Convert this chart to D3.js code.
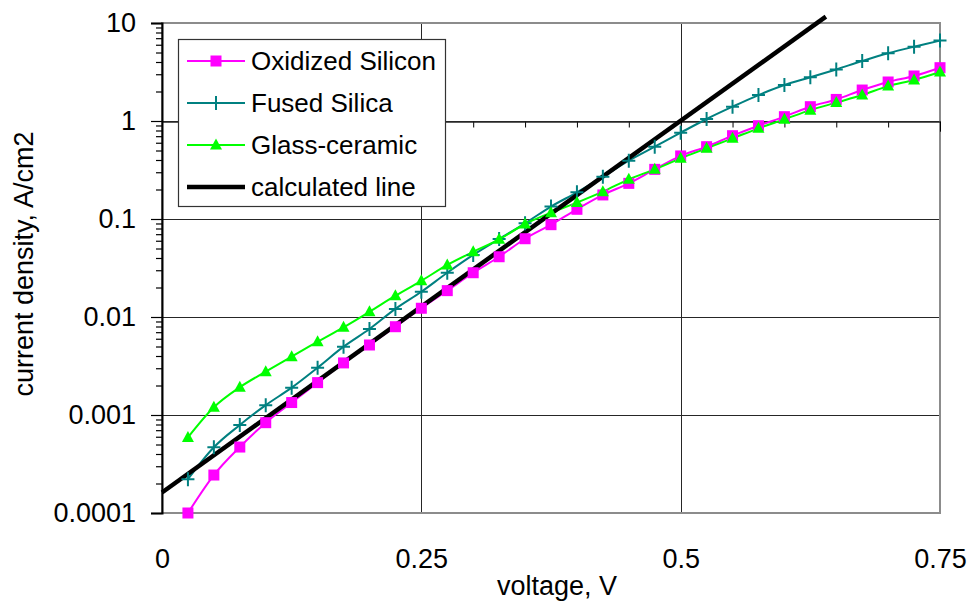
<!DOCTYPE html>
<html>
<head>
<meta charset="utf-8">
<script src="https://cdn.jsdelivr.net/npm/d3@7"></script>
<style>
  html, body { margin: 0; padding: 0; background: #fff; }
  svg { display: block; font-family: "Liberation Sans", Arial, sans-serif; }
</style>
</head>
<body>
<svg id="chart" width="972" height="606"></svg>
<script>
// Applied voltage (V) for the measured series
const voltage = [0.025, 0.05, 0.075, 0.1, 0.125, 0.15, 0.175, 0.2, 0.225, 0.25,
                 0.275, 0.3, 0.325, 0.35, 0.375, 0.4, 0.425, 0.45, 0.475, 0.5,
                 0.525, 0.55, 0.575, 0.6, 0.625, 0.65, 0.675, 0.7, 0.725, 0.75];

// Current density (A/cm2) per substrate
const oxidizedSilicon = [0.0001, 0.000244, 0.000471, 0.000835, 0.00134, 0.00214, 0.0034, 0.00518, 0.00796, 0.01228,
                         0.01858, 0.0283, 0.0412, 0.0629, 0.0875, 0.1256, 0.176, 0.231, 0.321, 0.44,
                         0.547, 0.708, 0.895, 1.107, 1.40, 1.66, 2.07, 2.50, 2.88, 3.50];
const fusedSilica = [0.000221, 0.000468, 0.00079, 0.00126, 0.0019, 0.00304, 0.00498, 0.00755, 0.0121, 0.0181,
                     0.0283, 0.043, 0.0625, 0.0904, 0.134, 0.187, 0.270, 0.394, 0.547, 0.760,
                     1.048, 1.40, 1.84, 2.33, 2.79, 3.36, 4.09, 4.91, 5.73, 6.61];
const glassCeramic = [0.000591, 0.0012, 0.00192, 0.00277, 0.00394, 0.0056, 0.00785, 0.0113, 0.0165, 0.0234,
                      0.034, 0.0463, 0.062, 0.0889, 0.116, 0.147, 0.190, 0.254, 0.321, 0.416,
                      0.526, 0.665, 0.842, 1.04, 1.29, 1.54, 1.84, 2.27, 2.62, 3.16];

// Calculated line: endpoints of the straight (exponential) fit
const calcVoltage = [0, 0.64];
const calcCurrent = [0.000162, 11.6];

// Axis ticks
const yTickValues = [10, 1, 0.1, 0.01, 0.001, 0.0001];
const yTickLabels = ["10", "1", "0.1", "0.01", "0.001", "0.0001"];
const xTickValues = [0, 0.25, 0.5, 0.75];
const xTickLabels = ["0", "0.25", "0.5", "0.75"];

const seriesNames = ["Oxidized Silicon", "Fused Silica", "Glass-ceramic", "calculated line"];
const seriesColors = ["#ff00ff", "#008080", "#00ff00", "#000000"];

const svg = d3.select("#chart");
const plotL = 162, plotR = 940, plotT = 23, plotB = 513;
const labelFont = 27;

const x = d3.scaleLinear().domain([0, 0.75]).range([plotL, plotR]);
const y = d3.scaleLog().domain([0.0001, 10]).range([plotB, plotT]);

// Grid lines
const grid = svg.append("g").attr("stroke", "#262626").attr("stroke-width", 1);
grid.selectAll("line.h").data([1, 0.1, 0.01, 0.001]).join("line")
  .attr("class", "h")
  .attr("x1", plotL).attr("x2", plotR)
  .attr("y1", d => Math.round(y(d)) + 0.5).attr("y2", d => Math.round(y(d)) + 0.5);
grid.selectAll("line.v").data([0.25, 0.5]).join("line")
  .attr("class", "v")
  .attr("y1", plotT).attr("y2", plotB)
  .attr("x1", d => Math.round(x(d)) + 0.5).attr("x2", d => Math.round(x(d)) + 0.5);

// Plot area frame
svg.append("rect")
  .attr("x", plotL).attr("y", plotT)
  .attr("width", plotR - plotL).attr("height", plotB - plotT)
  .attr("fill", "none").attr("stroke", "#8c8c8c").attr("stroke-width", 2);

// Category axis crossing at 1 A/cm2 (ticks only)
const stepsX = [];
for (let i = 0; i <= 15; i++) stepsX.push(+(i * 0.05).toFixed(2));
const minorX = stepsX.filter(v => Math.abs(v / 0.25 - Math.round(v / 0.25)) > 1e-6);
const xCross = svg.append("g").attr("transform", `translate(0,${Math.round(y(1)) + 0.5})`);
xCross.call(d3.axisBottom(x).tickValues(minorX).tickSize(6).tickFormat(""));
xCross.append("g").call(d3.axisBottom(x).tickValues(xTickValues).tickSize(10).tickFormat(""));
xCross.selectAll(".domain").attr("stroke", "#262626");
xCross.selectAll(".tick line").attr("stroke", "#000");

// X tick labels along the bottom
const xLab = svg.append("g").attr("transform", `translate(0,${plotB})`)
  .call(d3.axisBottom(x).tickValues(xTickValues).tickSize(0).tickPadding(36)
    .tickFormat((d, i) => xTickLabels[i]));
xLab.select(".domain").remove();
xLab.selectAll("text").attr("font-size", labelFont).attr("font-family", "Liberation Sans, Arial, sans-serif").attr("fill", "#000");

// Y axis with log minor ticks
const minorY = [];
[0.0001, 0.001, 0.01, 0.1, 1].forEach(dec => {
  for (let k = 2; k <= 9; k++) minorY.push(dec * k);
});
const yAx = svg.append("g").attr("transform", `translate(${plotL},0)`);
yAx.append("g").call(d3.axisLeft(y).tickValues(minorY).tickSize(6).tickFormat(""))
  .select(".domain").remove();
const yMajor = yAx.append("g").call(d3.axisLeft(y).tickValues(yTickValues).tickSize(11).tickPadding(15)
  .tickFormat((d, i) => yTickLabels[i]));
yMajor.selectAll("text").attr("font-size", labelFont).attr("font-family", "Liberation Sans, Arial, sans-serif").attr("fill", "#000");
yAx.selectAll(".tick line").attr("stroke", "#000").attr("stroke-width", 1.2);
yAx.selectAll(".domain").attr("stroke", "#000").attr("stroke-width", 2);

// Axis titles
svg.append("text")
  .attr("x", 557).attr("y", 595)
  .attr("text-anchor", "middle").attr("font-size", labelFont)
  .text("voltage, V");
svg.append("text")
  .attr("transform", "translate(33,264) rotate(-90)")
  .attr("text-anchor", "middle").attr("font-size", labelFont)
  .text("current density, A/cm2");

// Series lines
const measured = [oxidizedSilicon, fusedSilica, glassCeramic];
const smooth = d3.line()
  .x(d => x(d[0])).y(d => y(d[1]))
  .curve(d3.curveCatmullRom.alpha(0));

measured.forEach((vals, s) => {
  svg.append("path")
    .datum(voltage.map((v, i) => [v, vals[i]]))
    .attr("fill", "none").attr("stroke", seriesColors[s]).attr("stroke-width", 2)
    .attr("d", smooth);
});

// Calculated line
svg.append("path")
  .datum(calcVoltage.map((v, i) => [v, calcCurrent[i]]))
  .attr("fill", "none").attr("stroke", "#000").attr("stroke-width", 4.5)
  .attr("d", d3.line().x(d => x(d[0])).y(d => y(d[1])));

// Markers
function drawMarker(g, s, cx, cy) {
  if (s === 0) {
    g.append("rect").attr("x", cx - 5.5).attr("y", cy - 5.5).attr("width", 11).attr("height", 11)
      .attr("fill", seriesColors[0]);
  } else if (s === 1) {
    g.append("path").attr("d", `M${cx - 6.5},${cy}H${cx + 6.5}M${cx},${cy - 7}V${cy + 7}`)
      .attr("stroke", seriesColors[1]).attr("stroke-width", 2).attr("fill", "none");
  } else if (s === 2) {
    g.append("path").attr("d", `M${cx},${cy - 6.5}L${cx + 6},${cy + 4.5}L${cx - 6},${cy + 4.5}Z`)
      .attr("fill", seriesColors[2]);
  }
}
measured.forEach((vals, s) => {
  const g = svg.append("g");
  voltage.forEach((v, i) => drawMarker(g, s, x(v), y(vals[i])));
});

// Legend
const lg = svg.append("g");
lg.append("rect").attr("x", 178.5).attr("y", 39.5).attr("width", 267).attr("height", 167)
  .attr("fill", "#fff").attr("stroke", "#333").attr("stroke-width", 1.2);
const rowY = [61, 103, 145, 187];
seriesNames.forEach((name, s) => {
  const ry = rowY[s];
  lg.append("line").attr("x1", 187).attr("x2", 245).attr("y1", ry).attr("y2", ry)
    .attr("stroke", seriesColors[s]).attr("stroke-width", s === 3 ? 4.5 : 2);
  drawMarker(lg, s, 216, ry);
  lg.append("text").attr("x", 251).attr("y", ry).attr("dy", "0.35em")
    .attr("font-size", 26).text(name);
});
</script>
</body>
</html>
